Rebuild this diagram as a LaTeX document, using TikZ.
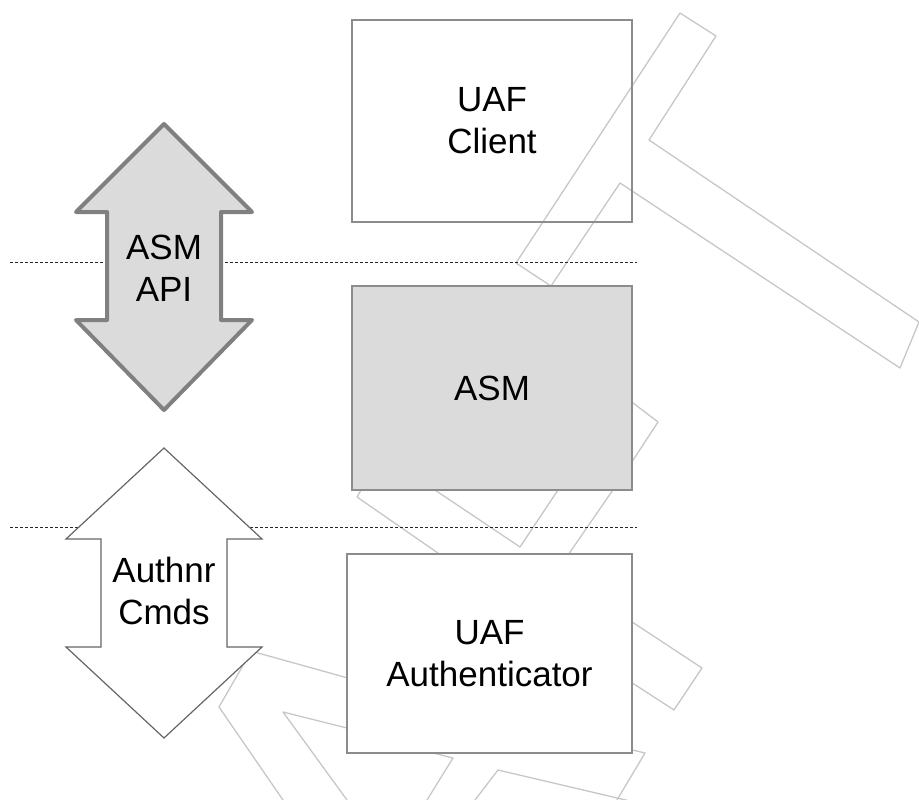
\documentclass[tikz,border=0pt]{standalone}
\usepackage{fontspec}
\setmainfont{Liberation Sans}
\begin{document}
\begin{tikzpicture}[x=1pt,y=-1pt,
    layer/.style={draw=black!45,line width=1.5pt,minimum width=280pt,minimum height=202pt,align=center,font=\fontsize{35}{42}\selectfont},
    label/.style={align=center,font=\fontsize{35}{42}\selectfont},
    logo/.style={draw=black!22,line width=1.3pt,line join=round},
    divider/.style={draw=black!85,line width=1pt,dash pattern=on 3pt off 2pt}]
    \useasboundingbox (0,0) rectangle (919,800);
    % faint logo behind everything
    \draw[logo] (545,295) -- (620,183) -- (900,368) -- (919,322) -- (649,140) -- (716,36) -- (680,13) -- (516,263) -- (560,292);
    \draw[logo] (620,393) -- (658,422) -- (620,480);
    \draw[logo] (364,485) -- (357,497) -- (448,560);
    \draw[logo] (426,484) -- (520,547) -- (562,484);
    \draw[logo] (617,484) -- (566,558);
    \draw[logo] (240,648) -- (355,680);
    \draw[logo] (249,655) -- (219,707) -- (283,800);
    \draw[logo] (355,730) -- (283,712) -- (347,800);
    \draw[logo] (425,751) -- (453,758) -- (427,800);
    \draw[logo] (475,800) -- (498,770) -- (630,801);
    \draw[logo] (620,747) -- (645,753) -- (617,800);
    \draw[logo] (620,614) -- (702,668) -- (674,710) -- (620,675);
    % layer boundaries
    \foreach \y in {262,527} \draw[divider] (10,\y) -- (637,\y);
    % interfaces
    \draw[draw=black!50,fill=black!14,line width=4pt,line join=round]
        (164,124) -- (252,212) -- (221,212) -- (221,320) -- (252,320) -- (164,410)
        -- (76,320) -- (107,320) -- (107,212) -- (76,212) -- cycle;
    \node[label] (api) at (164,268) {ASM\\API};
    \draw[draw=black!60,fill=white,line width=1.2pt]
        (164,448) -- (262,539) -- (227,539) -- (227,647) -- (262,647) -- (164,738)
        -- (66,647) -- (101,647) -- (101,539) -- (66,539) -- cycle;
    \node[label] (cmds) at (164,591) {Authnr\\Cmds};
    % components
    \node[layer] (client) at (492,121) {UAF\\Client};
    \node[layer,fill=black!14,minimum height=204pt] (asm) at (492,388) {ASM};
    \node[layer,fill=white,minimum width=285pt,minimum height=199pt] (authnr) at (489.5,653.5) {UAF\\Authenticator};
\end{tikzpicture}
\end{document}
